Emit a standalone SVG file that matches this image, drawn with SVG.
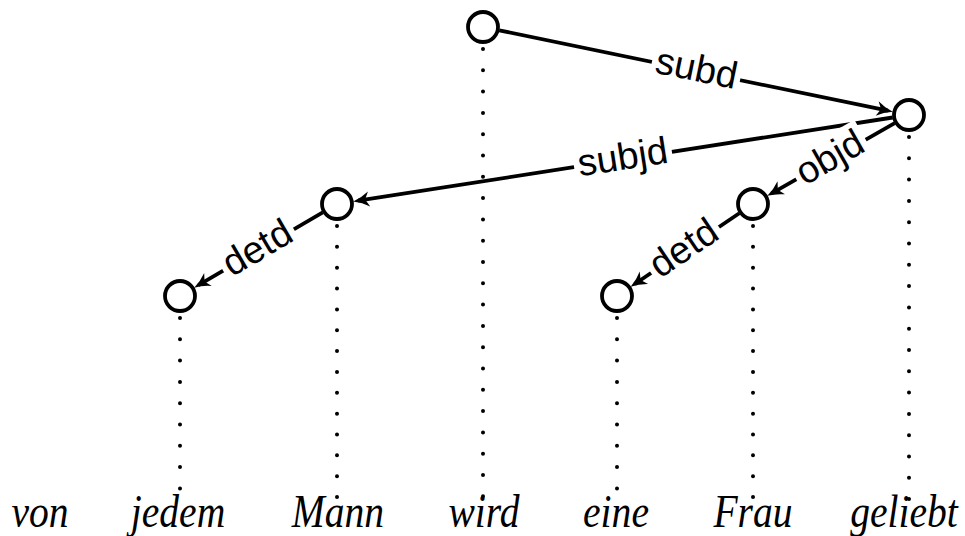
<svg xmlns="http://www.w3.org/2000/svg" width="965" height="536" viewBox="0 0 965 536">
<style>
.dot{stroke:#000;stroke-width:4;stroke-linecap:round;fill:none}
.d1{stroke-dasharray:0 21.3}
.d2{stroke-dasharray:0 20.85}
.edge{stroke:#000;stroke-width:3.8;fill:none;marker-end:url(#arr)}
.lbg{fill:#fff}
.lbl{font-family:"Liberation Sans",Arial,sans-serif;font-size:38px;text-anchor:middle;fill:#000}
.node{fill:#fff;stroke:#000;stroke-width:3.8}
.word{font-family:"Liberation Serif","Times New Roman",serif;font-style:italic;font-size:46px;text-anchor:middle;fill:#000}
</style>
<defs>
<marker id="arr" markerUnits="userSpaceOnUse" markerWidth="30" markerHeight="30" refX="0" refY="0" orient="auto" overflow="visible">
<path d="M5,0 Q-4,-2.5 -11,-7.5 L-7,0 L-11,7.5 Q-4,2.5 5,0 Z" fill="#000"/>
</marker>
</defs>
<rect width="965" height="536" fill="#fff"/>
<g id="projections">
<line class="dot d1" x1="483" y1="49" x2="483" y2="500"/>
<line class="dot d1" x1="909" y1="137" x2="909" y2="500"/>
<line class="dot d2" x1="337" y1="226" x2="337" y2="500"/>
<line class="dot d2" x1="753" y1="226" x2="753" y2="500"/>
<line class="dot d1" x1="180" y1="318" x2="180" y2="500"/>
<line class="dot d1" x1="617" y1="318" x2="617" y2="500"/>
</g>
<g id="connectors">
<line class="edge" x1="499.2" y1="30.3" x2="887.9" y2="110.7"/>
<line class="edge" x1="892.7" y1="117.5" x2="358.2" y2="200.7"/>
<line class="edge" x1="894.7" y1="123.2" x2="771.7" y2="193.3"/>
<line class="edge" x1="322.8" y1="212.3" x2="198.5" y2="285.1"/>
<line class="edge" x1="739.3" y1="213.2" x2="634.8" y2="284.0"/>
</g>
<g id="labels">
<g transform="translate(696,71) rotate(11.67)"><rect class="lbg" x="-45" y="-23" width="90" height="46"/><text class="lbl" y="10">subd</text></g>
<g transform="translate(623,159.5) rotate(-8.84)"><rect class="lbg" x="-49.5" y="-23" width="99" height="46"/><text class="lbl" y="10">subjd</text></g>
<g transform="translate(831,159.5) rotate(-29.7)"><rect class="lbg" x="-40" y="-23" width="80" height="46"/><text class="lbl" y="10">objd</text></g>
<g transform="translate(258.5,250) rotate(-30.4)"><rect class="lbg" x="-41" y="-23" width="82" height="46"/><text class="lbl" y="10">detd</text></g>
<g transform="translate(685,250) rotate(-34.1)"><rect class="lbg" x="-41" y="-23" width="82" height="46"/><text class="lbl" y="10">detd</text></g>
</g>
<g id="node-wird"><circle class="node" cx="483" cy="27" r="15"/></g>
<g id="node-geliebt"><circle class="node" cx="909" cy="115" r="15"/></g>
<g id="node-Mann"><circle class="node" cx="337" cy="204" r="15"/></g>
<g id="node-Frau"><circle class="node" cx="753" cy="204" r="15"/></g>
<g id="node-jedem"><circle class="node" cx="180" cy="296" r="15"/></g>
<g id="node-eine"><circle class="node" cx="617" cy="296" r="15"/></g>
<g id="words">
<text class="word" transform="translate(40,527) scale(0.86,1)">von</text>
<text class="word" transform="translate(178,527) scale(0.86,1)">jedem</text>
<text class="word" transform="translate(338,527) scale(0.86,1)">Mann</text>
<text class="word" transform="translate(484,527) scale(0.86,1)">wird</text>
<text class="word" transform="translate(616,527) scale(0.86,1)">eine</text>
<text class="word" transform="translate(753,527) scale(0.86,1)">Frau</text>
<text class="word" transform="translate(904,527) scale(0.86,1)">geliebt</text>
</g>
</svg>
